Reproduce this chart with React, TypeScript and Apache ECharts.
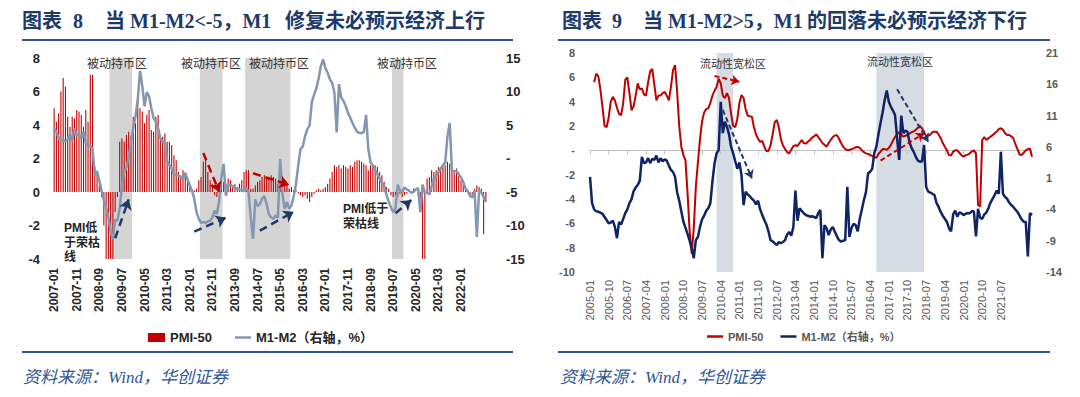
import React, { useEffect, useRef } from "react";
import * as echarts from "echarts";

function monthList(y0: number, m0: number, n: number): string[] {
  const out: string[] = [];
  for (let k = 0; k < n; k++) {
    const t = (m0 - 1) + k;
    const y = y0 + Math.floor(t / 12);
    const m = (t % 12) + 1;
    out.push(`${y}-${m < 10 ? "0" + m : m}`);
  }
  return out;
}

// ---------- Left chart (图表 8) ----------
const LEFT_MONTHS = monthList(2007, 1, 192);
const LEFT_LAST_LABEL = "2022-01";
const LEFT_PMI = [
  5.0, 4.2, 4.7, 6.0, 6.8, 6.3, 4.5, 3.9, 4.5, 4.4, 4.9, 4.8,
  4.6, 3.9, 4.9, 4.2, 7.0, 7.0, 1.5, 1.2, 0.4, -0.3, -2.0, -4,
  -4, -4, -4, -1.2, -0.3, 3.0, 3.2, 3.0, 3.4, 3.6, 3.3, 4.5,
  4.1, 5.8, 5.0, 4.8, 4.1, 4.6, 4.9, 3.7, 3.6, 4.5, 4.6, 3.4,
  3.3, 3.5, 3.0, 3.0, 2.8, 2.2, 1.9, 1.2, 1.0, 1.3, 1.0, 0.6,
  0.3, 0.0, 0.1, 0.2, 0.7, 0.9, 1.8, 2.1, 1.2, 0.7, 0.5, -0.2,
  -0.3, 0.2, 0.5, 0.6, 0.5, 0.8, 0.7, 0.4, 0.5, 0.3, 0.5, 0.7,
  1.2, 1.3, 1.3, 0.2, 0.2, 0.4, 0.6, 0.7, 0.9, 1.0, 0.9, 0.8,
  1.0, 0.9, 0.8, 0.5, 0.9, 0.8, 0.6, 0.5, 0.2, 0.3, 0.1, 0.1,
  -0.1, -0.2, -0.3, -0.2, -0.4, -0.6, -0.3, -0.1, 0.1, 0.2, 0.1, 0.2,
  0.3, 0.5, 0.8, 1.2, 1.6, 1.5, 1.6, 1.4, 1.6, 1.5, 1.4, 1.6,
  1.5, 1.8, 1.9, 1.9, 1.8, 1.7, 1.6, 1.3, 1.6, 1.6, 1.6, 1.5,
  1.2, 1.0, 0.6, 0.3, 0.2, -0.2, -0.3, -0.2, -0.3, -0.1, -0.3, -0.2,
  -0.1, 0.1, -0.1, 0.2, 0.0, -0.2, -0.5, -4, -4, 0.8, 0.9, 1.3,
  1.2, 1.3, 1.5, 1.4, 1.5, 1.6, 1.8, 1.7, 1.5, 1.3, 1.4, 1.2,
  0.7, 0.5, 0.2, 0.1, -0.3, -0.2, 0.2, 0.4, 0.3, 0.2, -2.5, -0.6,
];
const LEFT_M1M2 = [
  4.5, 4.0, 3.0, 2.8, 2.8, 2.6, 2.9, 3.6, 2.6, 4.5, 3.4, 3.6,
  2.9, 4.0, 2.3, 1.9, 1.9, 1.4, -2.5, -1.9, -3.3, -4.8, -6.3, -7.4,
  -8.6, -11.0, -12.0, -9.1, -9.3, -7.5, -4.1, -2.1, -1.3, 0.3, 2.5, 4.5,
  6.3, 8.8, 13.1, 10.8, 7.8, 9.9, 9.3, 7.5, 6.0, 5.5, 4.5, 3.0,
  2.5, 2.3, -0.5, -1.0, -1.5, -2.4, -2.5, -2.5, -2.8, -3.1, -2.1, -3.1,
  -4.0, -4.8, -6.0, -8.0, -9.0, -9.6, -9.5, -9.6, -9.4, -9.3, -8.8, -7.8,
  -8.3, -6.3, -2.8, -0.8, -5.6, -4.0, -3.9, -4.1, -4.5, -4.5, -4.6, -4.8,
  -4.9, -4.4, -5.0, -8.8, -12.0, -6.1, -7.1, -6.8, -6.0, -5.6, -6.8, -8.3,
  -8.8, -9.0, -8.5, -8.8, -0.1, -5.3, -7.5, -6.5, -7.5, -7.0, -5.6, -3.8,
  -1.0, 1.4, 1.8, 3.3, 4.4, 4.9, 8.4, 9.5, 10.5, 11.9, 13.8, 14.8,
  13.5, 12.8, 11.8, 11.3, 9.8, 3.9, 11.1, 9.1, 8.6, 7.8, 6.8, 6.1,
  5.3, 4.6, 4.0, 3.8, 3.8, 3.9, 6.5, 1.4, -0.6, -1.0, -1.8, -2.3,
  -3.0, -3.6, -4.1, -5.4, -6.4, -7.3, -8.0, -7.5, -3.9, -4.8, -5.1, -4.3,
  -4.6, -4.8, -5.1, -5.0, -4.6, -4.4, -8.0, -3.9, -5.1, -5.1, -5.4, -4.1,
  -3.0, -2.6, -2.1, -1.5, -1.0, -0.6, 3.3, 5.3, -1.8, -1.9, -1.9, -2.4,
  -2.8, -3.5, -4.5, -4.9, -5.6, -5.8, -4.8, -11.7, -4.8, -5.0, -5.8, -6.5,
];
const LEFT_SHADES: [string, string][] = [
  ["2009-01", "2009-08"],
  ["2012-02", "2013-04"],
  ["2014-04", "2015-11"],
  ["2019-07", "2020-03"],
];
// arrows: [startMonth, startValue(left axis), endMonth, endValue, colour]
const LEFT_ARROWS: [string, number, string, number, string][] = [
  ["2009-04", -2.76, "2009-10", -0.44, "navy"],
  ["2012-03", -2.37, "2013-05", -1.53, "navy"],
  ["2014-08", -2.31, "2015-11", -1.18, "navy"],
  ["2019-08", -1.27, "2020-03", -0.48, "navy"],
  ["2012-07", 2.33, "2013-02", 0.0, "red"],
  ["2014-05", 1.12, "2015-09", 0.42, "red"],
];

// ---------- Right chart (图表 9) ----------
const RIGHT_MONTHS = monthList(2005, 1, 214);
const RIGHT_LAST_LABEL = "2021-07";
const RIGHT_PMI = [
  null, null, 5.6, 6.3, 6.1, 5.0, 3.6, 2.0, 1.9, 2.7, 4.0, 4.4,
  4.1, 3.5, 3.0, 2.9, 3.9, 5.8, 6.0, 4.7, 3.3, 3.6, 4.5, 5.5,
  5.0, 5.1, 4.6, 4.5, 5.6, 6.5, 6.7, 5.4, 4.1, 4.5, 4.5, 4.7,
  4.8, 4.5, 4.1, 5.2, 6.6, 7.0, 4.8, 2.0, 0.3, -0.4, -0.8, -3.5,
  -6.6, -8.5, -6.4, -3.0, -1.0, 0.9, 2.4, 3.1, 3.4, 3.45, 3.9, 4.5,
  4.9, 5.2, 5.9, 5.5, 4.5, 4.3, 4.7, 4.3, 3.0, 2.0, 1.9, 2.6,
  3.9, 4.55, 4.3, 3.4, 2.85, 2.8, 2.77, 1.9, 1.3, 0.95, 0.7, 0.78,
  0.3, -0.05, -0.05, 0.4, 1.3, 2.3, 2.5, 1.9, 0.9, 0.4, 0.1, -0.15,
  -0.25, 0.05, 0.35, 0.42, 0.36, 0.6, 0.85, 0.6, 0.55, 0.7, 0.85, 1.05,
  1.15, 1.3, 1.1, 0.85, 0.6, 0.45, 0.3, 0.6, 0.85, 1.1, 1.22, 1.25,
  0.95, 0.6, 0.3, 0.1, 0.03, 0.03, 0.1, 0.16, 0.25, 0.28, 0.2, 0.0,
  -0.15, -0.25, -0.3, -0.4, -0.45, -0.55, -0.62, -0.3, -0.1, 0.1, 0.1, 0.05,
  0.2, 0.45, 0.8, 1.1, 1.3, 1.5, 1.3, 1.12, 1.2, 1.28, 1.38, 1.5,
  1.55, 1.7, 1.85, 2.0, 1.8, 1.5, 1.15, 1.2, 1.3, 1.5, 1.53, 1.53,
  1.3, 1.0, 0.6, 0.3, 0.0, -0.4, -0.4, -0.11, 0.0, 0.0, -0.2, -0.4,
  -0.52, -0.4, -0.35, -0.25, -0.1, 0.0, -0.25, -4.5, -4.6, 0.85, 1.1, 0.85,
  1.0, 1.12, 1.25, 1.4, 1.55, 1.75, 1.81, 1.7, 1.4, 1.26, 1.26, 1.15,
  0.99, 0.5, 0.1, -0.35, -0.38, -0.2, 0.0, 0.1, 0.16, -0.52,
];
const RIGHT_M1M2 = [
  1.2, -3.0, -4.0, -4.3, -4.36, -4.5, -4.7, -5.2, -5.7, -6.2, -6.1, -5.8,
  -6.8, -8.6, -6.0, -6.4, -5.5, -4.6, -4.0, -3.0, -2.4, -1.1, -0.5, -0.1,
  0.6, 4.4, 3.4, 3.5, 4.2, 3.4, 4.1, 3.9, 4.6, 3.5, 4.17, 3.7,
  4.0, 3.8, 3.0, 2.3, 2.0, 1.2, -1.3, -2.6, -4.3, -5.96, -6.9, -7.9,
  -9.0, -10.2, -11.8, -8.9, -8.4, -6.8, -5.6, -5.0, -4.2, -3.8, -3.0, 0.5,
  3.3, 4.96, 5.5, 13.2, 8.2, 10.0, 9.2, 8.0, 6.0, 4.96, 3.7, 2.5,
  3.5, 1.5, -3.3, -1.16, -1.6, -1.9, -2.3, -2.6, -3.2, -2.6, -4.0, -4.9,
  -5.7, -6.4, -7.5, -8.9, -9.1, -9.4, -9.7, -9.2, -9.4, -9.2, -8.9, -8.0,
  -7.6, -8.2, -6.8, -1.0, -5.8, -3.8, -4.2, -4.6, -4.9, -5.0, -5.16, -5.1,
  -5.2, -5.4, -4.6, -4.1, -11.8, -6.5, -7.0, -8.1, -7.2, -6.8, -7.56, -8.3,
  -8.9, -9.15, -9.0, -8.9, -0.4, -8.4, -7.0, -6.3, -6.5, -7.5, -5.5, -4.0,
  -2.5, -1.2, 1.77, 2.0, 2.5, 5.0, 6.03, 8.0, 9.8, 11.5, 13.5, 15.0,
  13.2, 12.4, 11.8, 11.1, 7.3, 3.9, 11.0, 8.2, 8.6, 8.4, 6.7, 5.8,
  5.2, 4.4, 3.8, 3.63, 3.7, 6.3, -0.4, -1.16, -1.3, -1.5, -1.7, -3.0,
  -3.6, -4.4, -5.0, -5.5, -6.0, -7.0, -7.5, -4.8, -4.2, -5.16, -4.5, -4.6,
  -4.9, -4.7, -4.6, -4.6, -4.3, -4.3, -8.3, -3.9, -5.3, -5.5, -4.8, -4.5,
  -3.8, -2.9, -2.3, -1.7, -1.0, -1.5, 5.2, -1.5, -2.0, -2.3, -2.9, -3.3,
  -3.6, -4.0, -4.4, -5.0, -5.6, -5.96, -6.0, -11.5, -4.6, -4.9,
];
const RIGHT_AXIS_MIN = -14; // right axis of chart 9 runs -14 … 21 by 5
const RIGHT_SHADES: [string, string][] = [
  ["2010-02", "2010-10"],
  ["2016-07", "2018-06"],
];
const RIGHT_ARROWS: [string, number, string, number, string][] = [
  ["2010-01", 6.11, "2011-01", 5.64, "red"],
  ["2010-05", 3.32, "2011-07", -2.3, "navy"],
  ["2017-05", 5.02, "2018-08", 0.71, "navy"],
  ["2016-09", -0.85, "2018-06", 1.4, "red"],
];

const SANS = "'Liberation Sans', Arial, 'Noto Sans CJK SC', sans-serif";
const CJK = "'Noto Sans CJK SC', 'Liberation Sans', sans-serif";
const SERIF = "'Liberation Serif', 'Noto Sans CJK SC', serif";
const RED = "#c00000";
const NAVY = "#1f3864";
const BLUEGRAY = "#8497b0";
const DEEPNAVY = "#0f2466";
const TITLE = "#1d3a6b";

function arrowData(list: [string, number, string, number, string][], width: number, dash: number[]) {
  return list.map(([a, va, b, vb, c]) => [
    {
      coord: [a, va],
      lineStyle: { color: c === "red" ? RED : NAVY, width, type: dash },
    },
    { coord: [b, vb] },
  ]);
}

function buildOption(): any {
  const blackLabel = { color: "#262626", fontWeight: "bold", fontFamily: SANS };
  const grayLabel = { color: "#595959", fontWeight: "bold", fontFamily: SANS };
  const zeroDash = (v: number) => (v === 0 ? "-" : String(v));
  const leftLastIdx = LEFT_MONTHS.indexOf(LEFT_LAST_LABEL);
  const rightLastIdx = RIGHT_MONTHS.indexOf(RIGHT_LAST_LABEL);

  const annot = (text: string, x: number, y: number, size: number) => ({
    type: "text",
    x,
    y,
    z: 100,
    style: {
      text,
      fontSize: size,
      fontFamily: CJK,
      fill: "#333333",
      align: "center",
      verticalAlign: "middle",
    },
  });
  const title = (text: string, x: number) => ({
    type: "text",
    x,
    y: 21,
    z: 100,
    style: { text, fontSize: 20, fontWeight: "bold", fontFamily: SERIF, fill: TITLE, verticalAlign: "middle" },
  });

  const graphic = [
    // titles
    title("图表", 22),
    title("8", 73),
    title("当 M1-M2<-5，M1", 105),
    title("修复未必预示经济上行", 285),
    title("图表", 562),
    title("9", 612),
    title("当 M1-M2>5，M1", 643),
    title("的回落未必预示经济下行", 807),
    // rules
    { type: "rect", z: 100, shape: { x: 22, y: 39, width: 491, height: 2 }, style: { fill: "#2f5496" } },
    { type: "rect", z: 100, shape: { x: 558, y: 39, width: 492, height: 2 }, style: { fill: "#2f5496" } },
    { type: "rect", z: 100, shape: { x: 22, y: 351, width: 491, height: 2 }, style: { fill: "#2f5496" } },
    { type: "rect", z: 100, shape: { x: 558, y: 351, width: 492, height: 2 }, style: { fill: "#2f5496" } },
    // sources
    { type: "text", x: 23, y: 377, z: 100, style: { text: "资料来源：Wind，华创证券", fontSize: 17, fontStyle: "italic", fontFamily: SERIF, fill: "#2f5597", verticalAlign: "middle" } },
    { type: "text", x: 560, y: 377, z: 100, style: { text: "资料来源：Wind，华创证券", fontSize: 17, fontStyle: "italic", fontFamily: SERIF, fill: "#2f5597", verticalAlign: "middle" } },
    // shaded-zone captions
    annot("被动持币区", 117, 62, 12),
    annot("被动持币区", 211, 62, 12),
    annot("被动持币区", 279, 62, 12),
    annot("被动持币区", 407, 62, 12),
    annot("流动性宽松区", 733, 63, 11),
    annot("流动性宽松区", 900, 61, 11),
    // notes
    { type: "text", x: 64, y: 221, z: 100, style: { text: "PMI低\n于荣枯\n线", fontSize: 12, fontWeight: "bold", fontFamily: SANS, fill: "#262626", lineHeight: 14.5, verticalAlign: "top" } },
    { type: "text", x: 343, y: 201, z: 100, style: { text: "PMI低于\n荣枯线", fontSize: 12, fontWeight: "bold", fontFamily: SANS, fill: "#262626", lineHeight: 15, verticalAlign: "top" } },
  ];

  const strip = (n: string) => n.replace(/#.*$/, "");

  return {
    animation: false,
    backgroundColor: "#ffffff",
    textStyle: { fontFamily: SANS },
    grid: [
      { left: 53, top: 58, width: 434, height: 201 },
      { left: 590, top: 53, width: 442, height: 219 },
    ],
    legend: [
      {
        left: 148,
        top: 331,
        padding: 0,
        itemWidth: 17,
        itemHeight: 9,
        textStyle: { fontSize: 13, fontWeight: "bold", color: "#262626", fontFamily: SANS },
        formatter: strip,
        data: [{ name: "PMI-50", icon: "rect" }],
      },
      {
        left: 235,
        top: 331,
        padding: 0,
        itemWidth: 16,
        itemHeight: 2.5,
        textStyle: { fontSize: 13, fontWeight: "bold", color: "#262626", fontFamily: SANS },
        formatter: strip,
        data: [{ name: "M1-M2（右轴，%）", icon: "rect" }],
      },
      {
        left: 707,
        top: 331,
        padding: 0,
        itemWidth: 16,
        itemHeight: 2.5,
        itemGap: 17,
        textStyle: { fontSize: 11, fontWeight: "bold", color: "#595959", fontFamily: SANS },
        formatter: strip,
        data: [
          { name: "PMI-50#R", icon: "rect" },
          { name: "M1-M2（右轴，%）#R", icon: "rect" },
        ],
      },
    ],
    xAxis: [
      {
        type: "category",
        gridIndex: 0,
        data: LEFT_MONTHS,
        boundaryGap: true,
        axisLine: { show: false, onZero: false },
        axisTick: { show: false },
        axisLabel: {
          ...blackLabel,
          rotate: 90,
          interval: (i: number) => i % 10 === 0 && i <= leftLastIdx,
          fontSize: 12,
          margin: 9,
        },
      },
      {
        type: "category",
        gridIndex: 1,
        data: RIGHT_MONTHS,
        boundaryGap: false,
        axisLine: { show: false, onZero: false },
        axisTick: { show: false },
        axisLabel: {
          color: "#595959",
          fontFamily: SANS,
          rotate: 90,
          interval: (i: number) => i % 9 === 0 && i <= rightLastIdx,
          fontSize: 11,
          margin: 8,
        },
      },
      {
        type: "category",
        gridIndex: 1,
        data: RIGHT_MONTHS,
        boundaryGap: false,
        position: "bottom",
        axisLine: { show: true, onZero: true, onZeroAxisIndex: 2, lineStyle: { color: "#bfbfbf", width: 1 } },
        axisTick: { show: true, interval: 8, length: 4, lineStyle: { color: "#bfbfbf" } },
        axisLabel: { show: false },
      },
    ],
    yAxis: [
      {
        type: "value",
        gridIndex: 0,
        min: -4,
        max: 8,
        interval: 2,
        splitLine: { show: false },
        axisLine: { show: false },
        axisTick: { show: false },
        axisLabel: { ...blackLabel, fontSize: 13, margin: 13 },
      },
      {
        type: "value",
        gridIndex: 0,
        position: "right",
        min: -15,
        max: 15,
        interval: 5,
        splitLine: { show: false },
        axisLine: { show: false },
        axisTick: { show: false },
        axisLabel: { ...blackLabel, fontSize: 13, margin: 19, formatter: zeroDash },
      },
      {
        type: "value",
        gridIndex: 1,
        min: -10,
        max: 8,
        interval: 2,
        splitLine: { show: false },
        axisLine: { show: false },
        axisTick: { show: false },
        axisLabel: { ...grayLabel, fontSize: 11, margin: 15, formatter: zeroDash },
      },
      {
        type: "value",
        gridIndex: 1,
        position: "right",
        min: 0,
        max: 35,
        interval: 5,
        splitLine: { show: false },
        axisLine: { show: false },
        axisTick: { show: false },
        axisLabel: { ...grayLabel, fontSize: 11, margin: 14, formatter: (v: number) => String(v + RIGHT_AXIS_MIN) },
      },
    ],
    series: [
      {
        type: "bar",
        name: "PMI-50",
        xAxisIndex: 0,
        yAxisIndex: 0,
        data: LEFT_PMI,
        barWidth: "48%",
        itemStyle: { color: RED },
        markArea: {
          silent: true,
          itemStyle: { color: "#d4d4d4" },
          data: LEFT_SHADES.map(([a, b]) => [{ xAxis: a }, { xAxis: b }]),
        },
        markLine: {
          silent: true,
          symbol: ["none", "arrow"],
          symbolSize: 10,
          label: { show: false },
          data: arrowData(LEFT_ARROWS, 2.5, [8, 5]),
        },
      },
      {
        type: "line",
        name: "M1-M2（右轴，%）",
        xAxisIndex: 0,
        yAxisIndex: 1,
        data: LEFT_M1M2,
        symbol: "none",
        lineStyle: { color: BLUEGRAY, width: 2.5 },
        itemStyle: { color: BLUEGRAY },
      },
      {
        type: "line",
        name: "PMI-50#R",
        xAxisIndex: 1,
        yAxisIndex: 2,
        data: RIGHT_PMI,
        symbol: "none",
        lineStyle: { color: RED, width: 2 },
        itemStyle: { color: RED },
        markLine: {
          silent: true,
          symbol: ["none", "arrow"],
          symbolSize: 8,
          label: { show: false },
          data: arrowData(RIGHT_ARROWS, 2, [5, 3]),
        },
      },
      {
        type: "line",
        name: "M1-M2（右轴，%）#R",
        xAxisIndex: 1,
        yAxisIndex: 3,
        data: RIGHT_M1M2.map((v) => v - RIGHT_AXIS_MIN),
        symbol: "none",
        lineStyle: { color: DEEPNAVY, width: 2.5 },
        itemStyle: { color: DEEPNAVY },
        markArea: {
          silent: true,
          z: 3,
          itemStyle: { color: "rgba(188,198,212,0.62)" },
          data: RIGHT_SHADES.map(([a, b]) => [{ xAxis: a }, { xAxis: b }]),
        },
      },
    ],
    graphic: { elements: graphic },
  };
}

export default function App() {
  const ref = useRef<HTMLDivElement>(null);
  useEffect(() => {
    if (!ref.current) return;
    const chart = echarts.init(ref.current, null, { renderer: "svg" });
    chart.setOption(buildOption());
    return () => chart.dispose();
  }, []);
  return (
    <div
      ref={ref}
      style={{ position: "fixed", left: 0, top: 0, width: 1080, height: 397, background: "#fff" }}
    />
  );
}
